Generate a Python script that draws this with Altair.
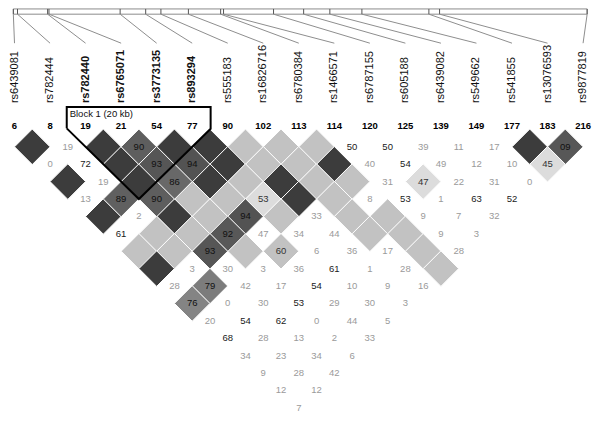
import altair as alt
import pandas as pd

# ---------------- data ----------------
snp_ids = ["rs6439081", "rs782444", "rs782440", "rs6765071", "rs3773135", "rs893294",
           "rs555183", "rs16826716", "rs6780384", "rs1466571", "rs6787155", "rs605188",
           "rs6439082", "rs549662", "rs541855", "rs13076593", "rs9877819"]
marker_nums = [6, 8, 19, 21, 54, 77, 90, 102, 113, 114, 120, 125, 139, 149, 177, 183, 216]
# relative physical positions of the markers along the top track
track_pos = [4, 8.3, 39.3, 40.7, 114, 140.3, 156, 184.3, 217.5, 220.5, 272, 303, 330,
             363, 432, 443, 595]
block_first, block_last = 2, 5
block_label = "Block 1 (20 kb)"

# LD matrix, one list per marker distance (d = j - i)
# "D" = strong LD (no number), "L" = light, "Lnn"/"Pnn" light/pale with number,
# "Mnn" = medium shade with number, "Xnn" = dark-medium with number, "nn" = white cell
ld_rows = [
    ["D", "19", "D", "M90", "D", "D", "L", "L", "L", "50", "50", "39", "11", "17", "D", "X09"],
    ["0", "72", "D", "M93", "M94", "D", "L", "L", "D", "40", "54", "49", "12", "10", "P45"],
    ["D", "19", "D", "M86", "D", "L", "D", "L", "L", "31", "P47", "22", "31", "0"],
    ["13", "M89", "M90", "L", "L", "P53", "D", "L", "8", "53", "1", "63", "52"],
    ["D", "2", "D", "L", "M94", "L", "33", "L", "L", "9", "7", "32"],
    ["61", "L", "L", "M92", "47", "34", "44", "L", "L", "9", "3"],
    ["L", "L", "M93", "L", "L60", "6", "36", "17", "L", "28"],
    ["D", "3", "30", "3", "36", "61", "1", "28", "L"],
    ["28", "M79", "42", "17", "54", "10", "9", "16"],
    ["M76", "0", "30", "53", "29", "30", "3"],
    ["20", "54", "62", "0", "44", "5"],
    ["68", "28", "13", "2", "33"],
    ["34", "23", "34", "6"],
    ["9", "28", "42"],
    ["12", "12"],
    ["7"],
]

# ---------------- geometry (reference pixel frame 600 x 427) ----------------
X0, STEP = 5.2, 36.6
HALF = STEP / 2
ROW1_Y = 146
LABEL_Y = 100
NUM_Y = 124
TRACK_TOP, TRACK_BOT, LINK_END = 1, 6.5, 37

W, H = 584, 406
XMIN, XMAX = -1.5, 600
xs = alt.Scale(domain=[XMIN, XMAX], nice=False, zero=False)
ys = alt.Scale(domain=[0, 427], nice=False, zero=False, reverse=True)
X = lambda f="x": alt.X(f"{f}:Q", scale=xs, axis=None)
Y = lambda f="y": alt.Y(f"{f}:Q", scale=ys, axis=None)

marker_x = [X0 + STEP * i for i in range(len(snp_ids))]

# cells
recs = []
for d, row in enumerate(ld_rows, start=1):
    for i, tok in enumerate(row):
        j = i + d
        if tok[0].isdigit():
            kind, val = "white", int(tok)
        elif len(tok) == 1:
            kind, val = {"D": "dark", "L": "light"}[tok], None
        else:
            kind = {"L": "light", "P": "pale", "M": "mid", "X": "dark2"}[tok[0]]
            val = int(tok[1:])
        if kind == "white":
            tcol = "#1a1a1a" if val >= 50 else "#9a9a9a"
        elif kind in ("mid", "dark2"):
            tcol = "#111111"
        else:
            tcol = "#333333"
        recs.append(dict(x=X0 + HALF * (i + j), y=ROW1_Y + HALF * (d - 1), kind=kind,
                         val=val, label=(tok[1:] if not tok[0].isdigit() else tok),
                         tcol=tcol))
cells = pd.DataFrame(recs)

dsize = (2 * HALF * W / (XMAX - XMIN)) ** 2

diam_fixed = alt.Chart(cells[cells.kind.isin(["dark", "light", "pale", "dark2"])]).mark_point(
    shape="diamond", filled=True, size=dsize, stroke="white", strokeWidth=1, opacity=1
).encode(
    x=X(), y=Y(),
    fill=alt.Fill("kind:N", legend=None,
                  scale=alt.Scale(domain=["dark", "light", "pale", "dark2"],
                                  range=["#3c3c3c", "#c2c2c2", "#dcdcdc", "#575757"])),
)
diam_mid = alt.Chart(cells[cells.kind == "mid"]).mark_point(
    shape="diamond", filled=True, size=dsize, stroke="white", strokeWidth=1, opacity=1
).encode(
    x=X(), y=Y(),
    fill=alt.Fill("val:Q", legend=None,
                  scale=alt.Scale(domain=[76, 94], range=["#848484", "#535353"], clamp=True)),
)
cell_text = alt.Chart(cells[cells.label != ""]).mark_text(
    font="Liberation Sans", fontSize=9.5, baseline="middle", align="center"
).encode(x=X(), y=Y(), text="label:N", color=alt.Color("tcol:N", scale=None))

# markers
mk = pd.DataFrame(dict(x=marker_x, id=snp_ids, num=[str(n) for n in marker_nums],
                       pos=track_pos,
                       blk=[block_first <= k <= block_last for k in range(len(snp_ids))]))
mk["ly"] = LABEL_Y
mk["ny"] = NUM_Y
mk["t0"] = TRACK_TOP
mk["t1"] = TRACK_BOT
mk["le"] = LINK_END

rs_norm = alt.Chart(mk[~mk.blk]).mark_text(
    font="Liberation Sans", fontSize=11, angle=270, align="left", baseline="middle", color="#111"
).encode(x=X(), y=Y("ly"), text="id:N")
rs_bold = alt.Chart(mk[mk.blk]).mark_text(
    font="Liberation Sans", fontSize=11, angle=270, align="left", baseline="middle",
    fontWeight="bold", color="#111"
).encode(x=X(), y=Y("ly"), text="id:N")
nums = alt.Chart(mk).mark_text(
    font="Liberation Sans", fontSize=9.5, fontWeight="bold", baseline="middle", color="#000"
).encode(x=X(), y=Y("ny"), text="num:N")

track_box = alt.Chart(pd.DataFrame(dict(x=[min(track_pos)], x2=[max(track_pos)],
                                        y=[TRACK_TOP], y2=[TRACK_BOT]))).mark_rect(
    fillOpacity=0, stroke="#8c8c8c", strokeWidth=1
).encode(x=X(), x2="x2:Q", y=Y(), y2="y2:Q")
ticks = alt.Chart(mk).mark_rule(color="#555555", strokeWidth=1).encode(
    x=X("pos"), y=Y("t0"), y2="t1:Q")
links = alt.Chart(mk).mark_rule(color="#8e8e8e", strokeWidth=1).encode(
    x=X("pos"), y=Y("t1"), x2="x:Q", y2="le:Q")

# block outline
lx = marker_x[block_first] - 19.4
rx = marker_x[block_last] + 19
bx = X0 + HALF * (block_first + block_last)
by = ROW1_Y + HALF * (block_last - block_first)
top_y = 104
blk = pd.DataFrame(dict(
    x=[lx, lx, rx, rx, bx, lx],
    y=[by - (bx - lx), top_y, top_y, by - (rx - bx), by, by - (bx - lx)],
    o=list(range(6))))
block_line = alt.Chart(blk).mark_line(color="black", strokeWidth=2, strokeJoin="miter").encode(
    x=X(), y=Y(), order="o:Q")
block_text = alt.Chart(pd.DataFrame(dict(x=[lx + 3], y=[112], t=[block_label]))).mark_text(
    font="Liberation Sans", fontSize=9.5, align="left", baseline="middle", color="#111"
).encode(x=X(), y=Y(), text="t:N")

chart = alt.layer(
    track_box, ticks, links, rs_norm, rs_bold, nums,
    diam_fixed, diam_mid, cell_text, block_line, block_text
).properties(width=W, height=H, padding=0, autosize=alt.AutoSizeParams(type="none")
).configure(background="white", view=alt.ViewConfig(stroke=None))

chart.save("out.html", embed_options={"renderer": "svg", "actions": False})
